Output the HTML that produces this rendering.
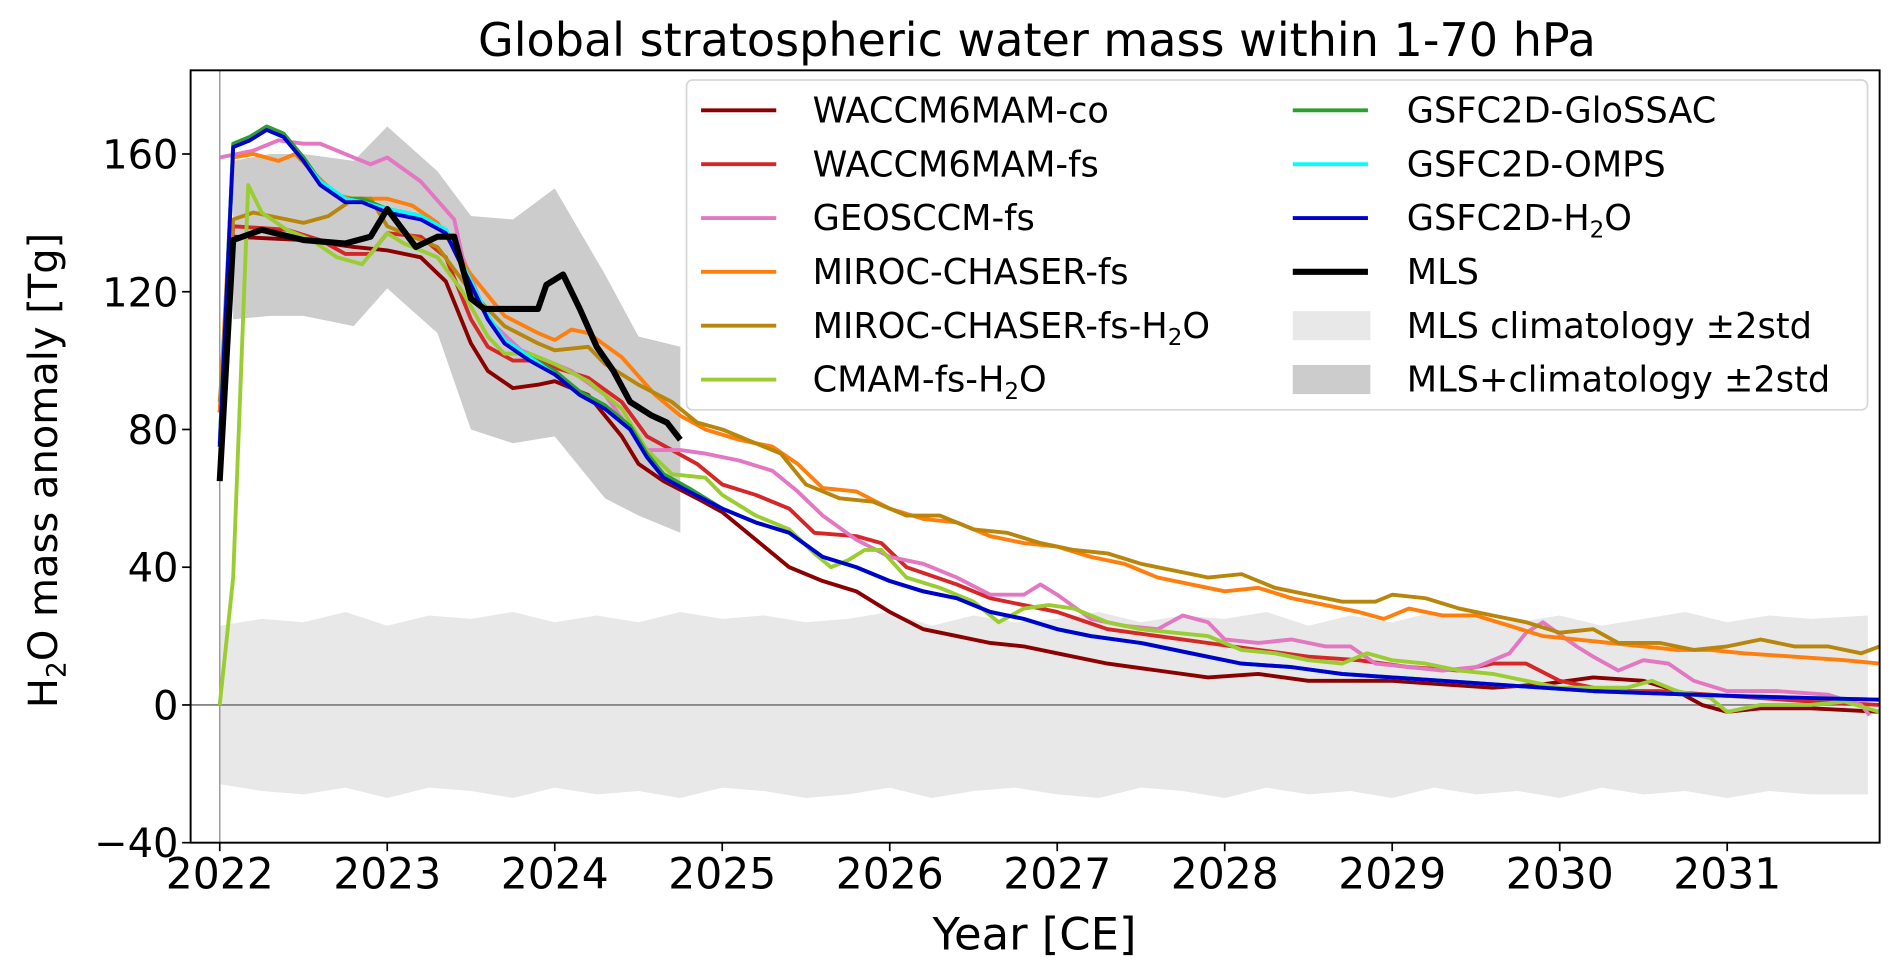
<!DOCTYPE html>
<html><head><meta charset="utf-8"><style>
html,body{margin:0;padding:0;background:#fff}
svg{display:block;font-family:"DejaVu Sans","Liberation Sans",sans-serif}
</style></head><body>
<svg id="chart" width="1892" height="970" viewBox="0 0 1560 800" xmlns="http://www.w3.org/2000/svg">
<g id="plot"></g>
</svg>
<script>
const xTicks=[2022,2023,2024,2025,2026,2027,2028,2029,2030,2031];
const yTicks=[-40,0,40,80,120,160];
const yTickLabels=["\u221240","0","40","80","120","160"];

const tClim=[2022,2022.25,2022.5,2022.75,2023,2023.25,2023.5,2023.75,2024,2024.25,2024.5,2024.75,2025,2025.25,2025.5,2025.75,2026,2026.25,2026.5,2026.75,2027,2027.25,2027.5,2027.75,2028,2028.25,2028.5,2028.75,2029,2029.25,2029.5,2029.75,2030,2030.25,2030.5,2030.75,2031,2031.25,2031.5,2031.84];
const climHi=[23,25,24,27,23,26,25,27,24,26,24,27,25,26,24,25,27,23,26,24,25,27,24,26,25,27,23,26,24,27,25,24,26,23,25,27,24,26,25,26];
const climLo=[-23,-25,-26,-24,-27,-24,-25,-27,-24,-26,-25,-27,-24,-25,-27,-26,-24,-27,-25,-24,-26,-27,-24,-25,-27,-24,-26,-25,-27,-24,-26,-25,-27,-24,-26,-25,-27,-25,-26,-26];

const tBand=[2022.08,2022.3,2022.5,2022.8,2023.0,2023.3,2023.5,2023.75,2024.0,2024.3,2024.5,2024.75];
const bandHi=[158,160,160,158,168,155,142,141,150,125,107,104];
const bandLo=[112,113,113,110,121,108,80,76,78,60,55,50];

const tMLS=[2022.0,2022.08,2022.25,2022.5,2022.75,2022.9,2023.0,2023.17,2023.3,2023.4,2023.5,2023.58,2023.75,2023.9,2023.95,2024.05,2024.15,2024.25,2024.35,2024.45,2024.58,2024.67,2024.75];
const vMLS=[65,135,138,135,134,136,144,133,136,136,118,115,115,115,122,125,115,104,97,88,84,82,77];

const tCo=[2022.0,2022.08,2022.5,2022.8,2023.0,2023.2,2023.35,2023.5,2023.6,2023.75,2023.9,2024.0,2024.2,2024.4,2024.5,2024.65,2024.85,2025.0,2025.2,2025.4,2025.6,2025.8,2026.0,2026.2,2026.4,2026.6,2026.8,2027.0,2027.3,2027.6,2027.9,2028.2,2028.5,2028.8,2029.0,2029.3,2029.6,2029.9,2030.2,2030.5,2030.7,2030.85,2031.0,2031.2,2031.5,2031.91];
const vCo=[85,136,135,133,132,130,123,105,97,92,93,94,90,78,70,65,60,56,48,40,36,33,27,22,20,18,17,15,12,10,8,9,7,7,7,6,5,6,8,7,4,0,-2,-1,-1,-2];

const tFs=[2022.0,2022.08,2022.4,2022.6,2022.75,2022.9,2023.0,2023.2,2023.35,2023.5,2023.6,2023.75,2023.9,2024.0,2024.2,2024.4,2024.55,2024.7,2024.85,2025.0,2025.2,2025.4,2025.55,2025.8,2025.95,2026.1,2026.4,2026.6,2026.8,2027.0,2027.3,2027.6,2027.9,2028.2,2028.5,2028.8,2029.1,2029.4,2029.6,2029.8,2030.0,2030.3,2030.6,2030.9,2031.2,2031.5,2031.91];
const vFs=[85,139,138,135,131,131,137,136,130,112,104,100,100,98,95,88,78,74,70,64,61,57,50,49,47,40,35,31,29,27,22,20,18,16,14,13,11,10,12,12,7,4,4,3,2,1,0];

const tGeos=[2022.0,2022.2,2022.35,2022.5,2022.6,2022.8,2022.9,2023.0,2023.2,2023.4,2023.45,2023.6,2023.8,2023.95,2024.1,2024.3,2024.45,2024.55,2024.75,2024.9,2025.1,2025.3,2025.45,2025.6,2025.8,2026.0,2026.2,2026.4,2026.6,2026.8,2026.9,2027.0,2027.2,2027.4,2027.6,2027.75,2027.9,2028.0,2028.2,2028.4,2028.6,2028.75,2028.9,2029.1,2029.3,2029.5,2029.7,2029.8,2029.9,2030.1,2030.2,2030.35,2030.5,2030.65,2030.8,2031.0,2031.3,2031.6,2031.8,2031.85];
const vGeos=[159,161,164,163,163,159,157,159,152,141,130,112,103,100,97,90,80,74,74,73,71,68,62,55,48,43,41,37,32,32,35,32,25,23,22,26,24,19,18,19,17,17,12,11,10,11,15,21,24,17,14,10,13,12,7,4,4,3,0,-3];

const tMf=[2022.0,2022.08,2022.2,2022.35,2022.45,2022.55,2022.7,2022.8,2023.0,2023.15,2023.3,2023.5,2023.7,2023.9,2024.0,2024.1,2024.2,2024.4,2024.6,2024.75,2024.9,2025.1,2025.3,2025.45,2025.6,2025.8,2026.0,2026.2,2026.4,2026.6,2026.8,2027.0,2027.2,2027.4,2027.6,2027.8,2028.0,2028.2,2028.4,2028.6,2028.8,2028.95,2029.1,2029.3,2029.5,2029.7,2029.9,2030.1,2030.3,2030.5,2030.7,2030.9,2031.1,2031.4,2031.7,2031.91];
const vMf=[85,159,160,158,160,155,148,147,147,145,140,125,113,108,106,109,108,101,90,84,80,77,75,70,63,62,57,54,53,49,47,46,43,41,37,35,33,34,31,29,27,25,28,26,26,23,20,19,18,17,16,16,15,14,13,12];

const tMh=[2022.0,2022.08,2022.2,2022.5,2022.65,2022.8,2022.9,2023.0,2023.1,2023.3,2023.5,2023.7,2023.9,2024.0,2024.2,2024.3,2024.5,2024.7,2024.85,2025.0,2025.2,2025.35,2025.5,2025.7,2025.9,2026.1,2026.3,2026.5,2026.7,2026.9,2027.1,2027.3,2027.5,2027.7,2027.9,2028.1,2028.3,2028.5,2028.7,2028.9,2029.0,2029.2,2029.4,2029.6,2029.8,2030.0,2030.2,2030.35,2030.6,2030.8,2031.0,2031.2,2031.4,2031.6,2031.8,2031.91];
const vMh=[88,141,143,140,142,147,147,139,137,133,120,110,105,103,104,99,93,88,82,80,76,73,64,60,59,55,55,51,50,47,45,44,41,39,37,38,34,32,30,30,32,31,28,26,24,21,22,18,18,16,17,19,17,17,15,17];

const tCm=[2022.0,2022.08,2022.17,2022.25,2022.4,2022.55,2022.7,2022.85,2023.0,2023.1,2023.3,2023.45,2023.6,2023.7,2023.85,2024.0,2024.2,2024.4,2024.55,2024.7,2024.9,2025.0,2025.2,2025.4,2025.55,2025.65,2025.75,2025.85,2025.95,2026.1,2026.3,2026.5,2026.65,2026.8,2026.95,2027.1,2027.3,2027.5,2027.7,2027.9,2028.1,2028.3,2028.5,2028.7,2028.85,2029.0,2029.2,2029.4,2029.6,2029.8,2030.0,2030.2,2030.4,2030.55,2030.7,2030.9,2031.0,2031.2,2031.5,2031.7,2031.91];
const vCm=[0,37,151,143,138,135,130,128,137,134,130,120,107,102,102,99,94,86,74,67,66,61,55,51,44,40,42,45,45,37,34,30,24,28,29,28,24,22,21,20,16,15,13,12,15,13,12,10,9,7,5,5,5,7,4,2,-2,0,0,1,-2];

const tGs=[2022.0,2022.08,2022.18,2022.28,2022.38,2022.5,2022.6,2022.75,2022.85,2023.0,2023.2,2023.35,2023.5,2023.6,2023.7,2023.85,2024.0,2024.15,2024.3,2024.45,2024.55,2024.65,2024.8,2025.0,2025.2,2025.4,2025.6,2025.8,2026.0,2026.2,2026.4,2026.6,2026.8,2027.0,2027.2,2027.5,2027.8,2028.1,2028.4,2028.7,2029.0,2029.3,2029.6,2029.9,2030.2,2030.5,2030.8,2031.1,2031.5,2031.91];
const vGlossac=[76,163,165,168,166,159,152,147,147,144,142,138,123,113,106,101,97,91,87,81,73,67,63,57,53,50,43,40,36,33,31,27,25,22,20,18,15,12,11,9,8,7,6,5,4,3.5,3,2.5,2,1.5];
const vOmps=[75,162,164,167,165,158,152,147,146,144,142,138,123,113,106,101,96,90,86,80,72,66,62,57,53,50,43,40,36,33,31,27,25,22,20,18,15,12,11,9,8,7,6,5,4,3.5,3,2.5,2,1.5];
const vH2o=[75,162,164,167,165,158,151,146,146,143,141,137,122,112,105,100,96,90,86,80,72,66,62,57,53,50,43,40,36,33,31,27,25,22,20,18,15,12,11,9,8,7,6,5,4,3.5,3,2.5,2,1.5];

const X0=157,X1=1550,Y0=58,Y1=695;
const xMin=2021.826,xMax=2031.91,yMin=-40,yMax=184.3;
const sx=v=>X0+(v-xMin)/(xMax-xMin)*(X1-X0);
const sy=v=>Y1-(v-yMin)/(yMax-yMin)*(Y1-Y0);
const NS="http://www.w3.org/2000/svg";
const svg=document.getElementById('chart');
function mk(tag,attrs,parent){const e=document.createElementNS(NS,tag);for(const k in attrs)e.setAttribute(k,attrs[k]);(parent||svg).appendChild(e);return e;}
function linePath(ts,vs){return ts.map((t,i)=>(i?'L':'M')+sx(t).toFixed(1)+','+sy(vs[i]).toFixed(1)).join('');}
function bandPath(ts,hi,lo){let d=ts.map((t,i)=>(i?'L':'M')+sx(t).toFixed(1)+','+sy(hi[i]).toFixed(1)).join('');for(let i=ts.length-1;i>=0;i--)d+='L'+sx(ts[i]).toFixed(1)+','+sy(lo[i]).toFixed(1);return d+'Z';}

const clip=mk('clipPath',{id:'cp'});mk('rect',{x:X0,y:Y0,width:X1-X0,height:Y1-Y0},clip);
const g=mk('g',{'clip-path':'url(#cp)'});


let e=mk('path',{d:bandPath(tClim,climHi,climLo),fill:'#e8e8e8'},g);


e=mk('path',{d:bandPath(tBand,bandHi,bandLo),fill:'#cccccc'},g);


e=mk('line',{x1:X0,x2:X1,y1:sy(0),y2:sy(0),stroke:'#888',"stroke-width":1.6},g);


e=mk('line',{x1:sx(2022),x2:sx(2022),y1:Y0,y2:Y1,stroke:'#999',"stroke-width":1.2},g);



const series=[
 ['series-waccm6mam-co',tCo,vCo,'#8b0000',3.2],
 ['series-waccm6mam-fs',tFs,vFs,'#d62728',3.2],
 ['series-geosccm-fs',tGeos,vGeos,'#e377c2',3.2],
 ['series-miroc-chaser-fs',tMf,vMf,'#ff7f0e',3.2],
 ['series-miroc-chaser-fs-h2o',tMh,vMh,'#b8860b',3.2],
 ['series-cmam-fs-h2o',tCm,vCm,'#9acd32',3.2],
 ['series-gsfc2d-glossac',tGs,vGlossac,'#2ca02c',3.2],
 ['series-gsfc2d-omps',tGs,vOmps,'#00ffff',3.2],
 ['series-gsfc2d-h2o',tGs,vH2o,'#0000cd',3.2],
 ['series-mls',tMLS,vMLS,'#000000',5]];
series.forEach(s=>{
 const p=mk('path',{d:linePath(s[1],s[2]),fill:'none',stroke:s[3],'stroke-width':s[4],'stroke-linejoin':'round'},g);
 
 
});

e=mk('rect',{x:X0,y:Y0,width:X1-X0,height:Y1-Y0,fill:'none',stroke:'#000','stroke-width':1.6});



xTicks.forEach(t=>{
 mk('line',{x1:sx(t),x2:sx(t),y1:Y1,y2:Y1+7,stroke:'#000','stroke-width':1.4});
 const tx=mk('text',{x:sx(t),y:Y1+38,'text-anchor':'middle','font-size':35},null);tx.textContent=t;
 
 
});
yTicks.forEach((t,i)=>{
 mk('line',{x1:X0-7,x2:X0,y1:sy(t),y2:sy(t),stroke:'#000','stroke-width':1.4});
 const tx=mk('text',{x:X0-10,y:sy(t)+12,'text-anchor':'end','font-size':33},null);tx.textContent=yTickLabels[i];
 
 
});

e=mk('text',{x:855,y:46,'text-anchor':'middle','font-size':38});e.textContent='Global stratospheric water mass within 1-70 hPa';


e=mk('text',{x:853,y:783,'text-anchor':'middle','font-size':37});e.textContent='Year [CE]';


e=mk('text',{x:0,y:0,'text-anchor':'middle','font-size':33,transform:'translate(47,388) rotate(-90)'});
e.innerHTML='H<tspan font-size="22" dy="7">2</tspan><tspan dy="-7">O mass anomaly [Tg]</tspan>';



const lg=mk('g',{});


mk('rect',{x:566,y:66,width:974,height:272,rx:5,fill:'#fff','fill-opacity':0.85,stroke:'#d6d6d6','stroke-width':1.4},lg);
const legItems=[
 [0,0,'#8b0000','WACCM6MAM-co','line'],[0,1,'#d62728','WACCM6MAM-fs','line'],[0,2,'#e377c2','GEOSCCM-fs','line'],
 [0,3,'#ff7f0e','MIROC-CHASER-fs','line'],[0,4,'#b8860b','MIROC-CHASER-fs-H|2|O','line'],[0,5,'#9acd32','CMAM-fs-H|2|O','line'],
 [1,0,'#2ca02c','GSFC2D-GloSSAC','line'],[1,1,'#00ffff','GSFC2D-OMPS','line'],[1,2,'#0000cd','GSFC2D-H|2|O','line'],
 [1,3,'#000000','MLS','thick'],[1,4,'#e8e8e8','MLS climatology \u00b12std','patch'],[1,5,'#cccccc','MLS+climatology \u00b12std','patch']];
legItems.forEach(it=>{
 const hx=it[0]?1066:578, tx=it[0]?1160:670, y=91+it[1]*44.4;
 const eg=mk('g',{},lg);
 
 
 if(it[4]==='patch') mk('rect',{x:hx,y:y-12,width:64,height:24,fill:it[2]},eg);
 else mk('line',{x1:hx,x2:hx+62,y1:y,y2:y,stroke:it[2],'stroke-width':it[4]==='thick'?5:3.2},eg);
 const t=mk('text',{x:tx,y:y+10,'font-size':29},eg);
 const parts=it[3].split('|');
 if(parts.length===3) t.innerHTML=parts[0]+'<tspan font-size="19" dy="6">'+parts[1]+'</tspan><tspan dy="-6">'+parts[2]+'</tspan>';
 else t.textContent=it[3];
});
</script>
</body></html>
